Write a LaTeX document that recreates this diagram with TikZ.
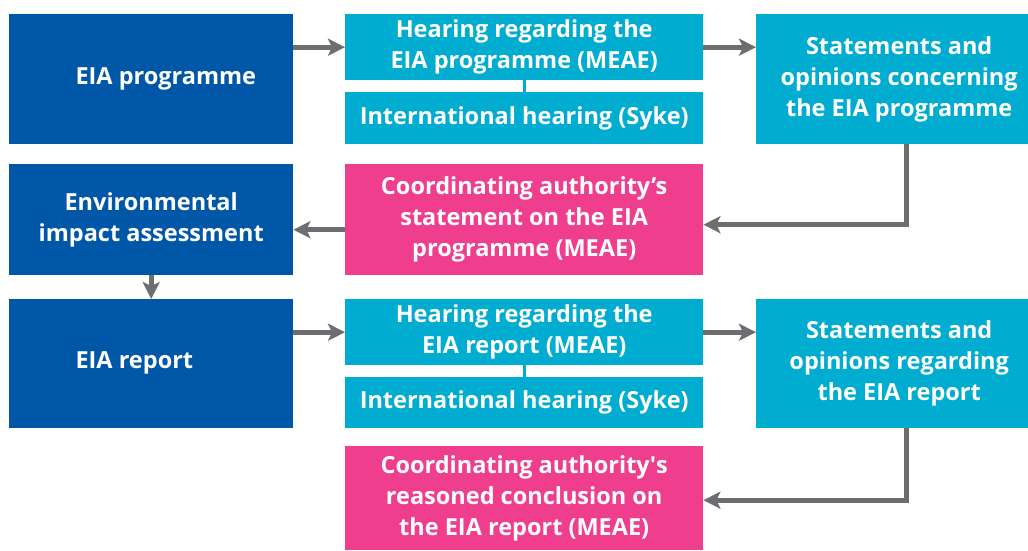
\documentclass[tikz,border=0pt]{standalone}
\usepackage{fontspec}
\setmainfont{Open Sans}
\usetikzlibrary{positioning,arrows.meta}

\definecolor{darkblue}{HTML}{0057A8}
\definecolor{lightblue}{HTML}{00ACD0}
\definecolor{pinkbox}{HTML}{EE3E8D}
\definecolor{arrowgray}{HTML}{6D6E71}

\tikzset{
  boxfont/.style={font=\fontsize{23.5}{31}\selectfont\bfseries},
  box/.style={anchor=north west, inner sep=0pt, text=white, align=center, boxfont},
  dbox/.style={box, fill=darkblue},
  lbox/.style={box, fill=lightblue},
  pbox/.style={box, fill=pinkbox},
  arr/.style={draw=arrowgray, line width=5pt, -{Stealth[length=17pt,width=17pt,inset=4pt]}}
}

\begin{document}
\begin{tikzpicture}[x=1pt,y=-1pt]
\useasboundingbox (0,0) rectangle (1028,550);

% top row
\node[dbox, minimum width=284pt, minimum height=130pt] (prog) at (9,14) {};
\node[anchor=west, text=white, boxfont] (progtext) at (72,79) {EIA programme};
\node[lbox, minimum width=358pt, minimum height=66pt] (hear1) at (345,14) {Hearing regarding the\\EIA programme (MEAE)};
\node[lbox, minimum width=358pt, minimum height=52pt] (intl1) at (345,92) {International hearing (Syke)};
\node[lbox, minimum width=272pt, minimum height=130pt] (stat1) at (756,14) {\hspace{14pt}Statements and\\\hspace{14pt}opinions concerning\\\hspace{14pt}the EIA programme};

% middle row
\node[dbox, minimum width=284pt, minimum height=111pt] (assess) at (9,164) {Environmental\\impact assessment};
\node[pbox, minimum width=358pt, minimum height=111pt] (coord1) at (345,164) {Coordinating authority’s\\statement on the EIA\\programme (MEAE)};

% report row
\node[dbox, minimum width=284pt, minimum height=129pt] (report) at (9,299) {};
\node[anchor=west, text=white, boxfont] (reporttext) at (72,363) {EIA report};
\node[lbox, minimum width=358pt, minimum height=66pt] (hear2) at (345,299) {Hearing regarding the\\EIA report (MEAE)};
\node[lbox, minimum width=358pt, minimum height=51pt] (intl2) at (345,377) {International hearing (Syke)};
\node[lbox, minimum width=272pt, minimum height=129pt] (stat2) at (756,299) {\hspace{14pt}Statements and\\\hspace{14pt}opinions regarding\\\hspace{14pt}the EIA report};

% bottom
\node[pbox, minimum width=358pt, minimum height=104pt] (coord2) at (345,446) {Coordinating authority\textquotesingle s\\reasoned conclusion on\\the EIA report (MEAE)};

% links between hearings
\draw[lightblue, line width=3pt] (hear1.south) -- (intl1.north);
\draw[lightblue, line width=3pt] (hear2.south) -- (intl2.north);

% arrows
\draw[arr] (prog.east |- hear1) -- (hear1.west);
\draw[arr] (hear1.east) -- (stat1.west |- hear1);
\draw[arr] ([xshift=14pt]stat1.south) |- ([yshift=-5pt]coord1.east);
\draw[arr] ([yshift=-10pt]coord1.west) -- ([yshift=-10pt]assess.east);
\draw[arr] (assess.south) -- (report.north);
\draw[arr] (report.east |- hear2) -- (hear2.west);
\draw[arr] (hear2.east) -- (stat2.west |- hear2);
\draw[arr] ([xshift=14pt]stat2.south) |- ([yshift=-2pt]coord2.east);

\end{tikzpicture}
\end{document}
